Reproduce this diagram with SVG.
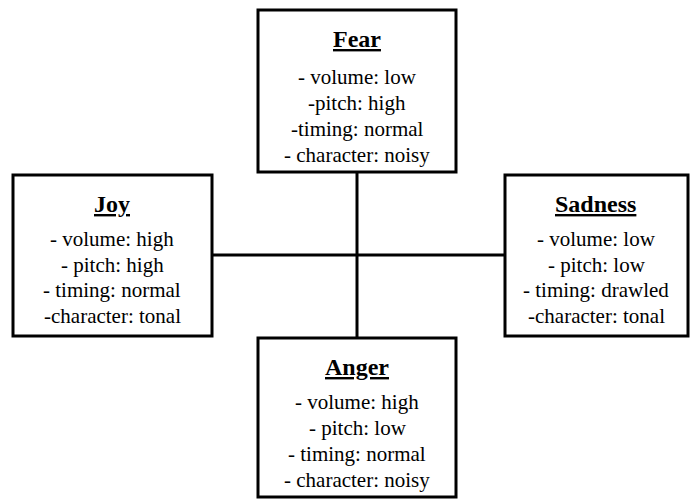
<svg xmlns="http://www.w3.org/2000/svg" width="690" height="499" viewBox="0 0 690 499">
<style>
.box{fill:#fff;stroke:#000;stroke-width:3}
.ln{stroke:#000;stroke-width:3;fill:none}
.t{font-family:'Liberation Serif',serif;font-size:24px;font-weight:bold;text-decoration:underline;fill:#000}
.b{font-family:'Liberation Serif',serif;font-size:21px;fill:#000}
</style>
<rect width="690" height="499" fill="#fff"/>
<g id="connectors">
<line class="ln" x1="357" y1="172" x2="357" y2="338"/>
<line class="ln" x1="212" y1="255" x2="505" y2="255"/>
</g>
<g id="fear">
<rect class="box" x="258" y="10" width="198" height="162"/>
<text class="t" x="333" y="47">Fear</text>
<text class="b" x="298" y="84">- volume: low</text>
<text class="b" x="308" y="110">-pitch: high</text>
<text class="b" x="291" y="136">-timing: normal</text>
<text class="b" x="284" y="162">- character: noisy</text>
</g>
<g id="joy">
<rect class="box" x="13" y="175" width="199" height="161"/>
<text class="t" x="94" y="212">Joy</text>
<text class="b" x="50" y="246">- volume: high</text>
<text class="b" x="61" y="272">- pitch: high</text>
<text class="b" x="43" y="297">- timing: normal</text>
<text class="b" x="44" y="323">-character: tonal</text>
</g>
<g id="sadness">
<rect class="box" x="505" y="175" width="183" height="161"/>
<text class="t" x="555" y="212">Sadness</text>
<text class="b" x="537" y="246">- volume: low</text>
<text class="b" x="548" y="272">- pitch: low</text>
<text class="b" x="523" y="297">- timing: drawled</text>
<text class="b" x="528" y="323">-character: tonal</text>
</g>
<g id="anger">
<rect class="box" x="258" y="338" width="198" height="159"/>
<text class="t" x="325" y="375">Anger</text>
<text class="b" x="295" y="409">- volume: high</text>
<text class="b" x="309" y="435">- pitch: low</text>
<text class="b" x="288" y="461">- timing: normal</text>
<text class="b" x="284" y="487">- character: noisy</text>
</g>
</svg>
